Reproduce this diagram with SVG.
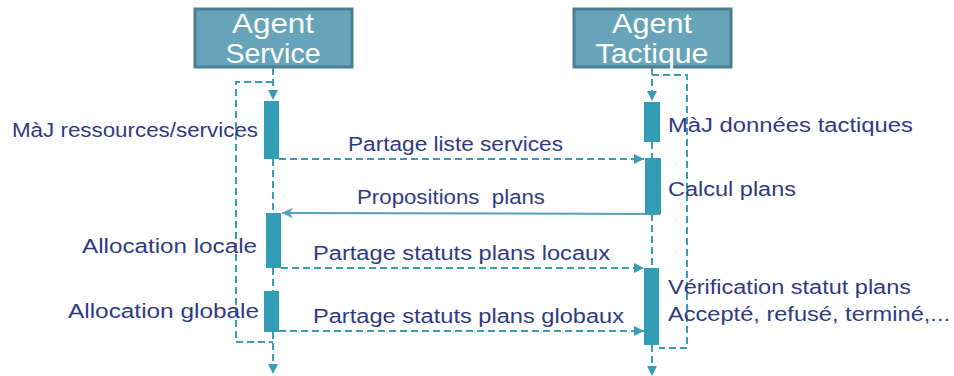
<svg xmlns="http://www.w3.org/2000/svg" width="954" height="376" viewBox="0 0 954 376">
<defs>
<style>
.hdr{fill:#68a4b9;stroke:#4b7e91;stroke-width:3}
.hdrt{font-family:"Liberation Sans",Arial,sans-serif;font-size:28px;fill:#ffffff;text-anchor:middle}
.lbl{font-family:"Liberation Sans",Arial,sans-serif;font-size:20px;fill:#2f3a85}
.act{fill:#329db5}
.dash{fill:none;stroke:#3a9db4;stroke-width:2;stroke-dasharray:7 4}
.solid{fill:none;stroke:#5a9fb5;stroke-width:2}
</style>
<marker id="ah" viewBox="0 0 10 10" refX="10" refY="5" markerWidth="10" markerHeight="10" markerUnits="userSpaceOnUse" orient="auto">
<path d="M0,0 L10,5 L0,10 z" fill="#3a9db4"/>
</marker>
<marker id="ah2" viewBox="0 0 10 10" refX="10" refY="5" markerWidth="12" markerHeight="11" markerUnits="userSpaceOnUse" orient="auto">
<path d="M0,0 L10,5 L0,10 L3,5 z" fill="#5a9fb5"/>
</marker>
</defs>

<g id="agent-service">
<rect class="hdr" x="195" y="9" width="157" height="58"/>
<text class="hdrt" x="273" y="33" textLength="82" lengthAdjust="spacingAndGlyphs">Agent</text>
<text class="hdrt" x="273" y="63" textLength="95" lengthAdjust="spacingAndGlyphs">Service</text>
</g>
<g id="agent-tactique">
<rect class="hdr" x="574" y="9" width="157" height="58"/>
<text class="hdrt" x="652" y="33" textLength="80" lengthAdjust="spacingAndGlyphs">Agent</text>
<text class="hdrt" x="652" y="63" textLength="113" lengthAdjust="spacingAndGlyphs">Tactique</text>
</g>

<g id="connectors">
<!-- service lifeline -->
<path class="dash" d="M273,68 V100" marker-end="url(#ah)"/>
<path class="dash" d="M273,159 V213"/>
<path class="dash" d="M273,268 V291"/>
<path class="dash" d="M273,332 V374" marker-end="url(#ah)"/>
<path class="dash" d="M273,82 H236 V342 H273"/>
<!-- tactique lifeline -->
<path class="dash" d="M652,68 V101" marker-end="url(#ah)"/>
<path class="dash" d="M652,142 V158"/>
<path class="dash" d="M652,214 V268"/>
<path class="dash" d="M652,345 V376" marker-end="url(#ah)"/>
<path class="dash" d="M652,75 H687 V348 H659"/>
<!-- messages -->
<path class="dash" d="M279,159 H644" marker-end="url(#ah)"/>
<path class="solid" d="M660,214 L282,213" marker-end="url(#ah2)"/>
<path class="dash" d="M281,268 H644" marker-end="url(#ah)"/>
<path class="dash" d="M279,331 H644" marker-end="url(#ah)"/>
</g>

<g id="activations">
<rect class="act" x="264" y="101" width="15" height="58"/>
<rect class="act" x="266" y="213" width="15" height="55"/>
<rect class="act" x="264" y="291" width="15" height="41"/>
<rect class="act" x="644" y="102" width="16" height="40"/>
<rect class="act" x="645" y="158" width="16" height="56"/>
<rect class="act" x="644" y="268" width="15" height="77"/>
</g>

<g id="labels">
<text class="lbl" x="12" y="137" textLength="246" lengthAdjust="spacingAndGlyphs">MàJ ressources/services</text>
<text class="lbl" x="668" y="132" textLength="245" lengthAdjust="spacingAndGlyphs">MàJ données tactiques</text>
<text class="lbl" x="668" y="196" textLength="128" lengthAdjust="spacingAndGlyphs">Calcul plans</text>
<text class="lbl" x="348" y="151" textLength="215" lengthAdjust="spacingAndGlyphs">Partage liste services</text>
<text class="lbl" x="357" y="204" textLength="188" lengthAdjust="spacingAndGlyphs" xml:space="preserve">Propositions  plans</text>
<text class="lbl" x="82" y="253" textLength="175" lengthAdjust="spacingAndGlyphs">Allocation locale</text>
<text class="lbl" x="68" y="318" textLength="191" lengthAdjust="spacingAndGlyphs">Allocation globale</text>
<text class="lbl" x="313" y="260" textLength="297" lengthAdjust="spacingAndGlyphs">Partage statuts plans locaux</text>
<text class="lbl" x="313" y="323" textLength="311" lengthAdjust="spacingAndGlyphs">Partage statuts plans globaux</text>
<text class="lbl" x="668" y="294" textLength="243" lengthAdjust="spacingAndGlyphs">Vérification statut plans</text>
<text class="lbl" x="668" y="321" textLength="282" lengthAdjust="spacingAndGlyphs">Accepté, refusé, terminé,...</text>
</g>
</svg>
